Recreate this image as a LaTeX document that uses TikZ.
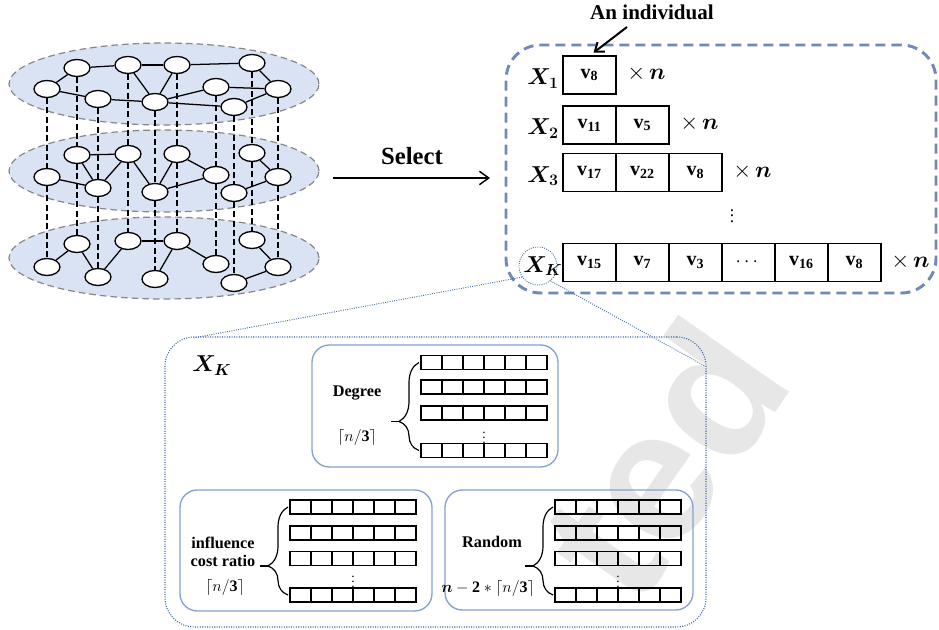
\documentclass[tikz,border=0pt]{standalone}
\usepackage{amsmath,bm}
\usepackage{fontspec}
\setmainfont{Liberation Serif}
\newfontfamily\wmfont{Liberation Sans}
\usetikzlibrary{arrows.meta,decorations.pathreplacing,shapes.geometric,calc}

\definecolor{layerfill}{RGB}{218,227,243}
\definecolor{layeredge}{RGB}{135,135,135}
\definecolor{popblue}{RGB}{112,137,186}
\definecolor{dotblue}{RGB}{72,105,168}
\definecolor{subblue}{RGB}{135,160,208}
\definecolor{wmgray}{RGB}{231,231,231}

% one gene of an individual: v with a bold subscript
\newcommand\vx[1]{\textbf{v}\textsubscript{\textbf{#1}}}
% a gene cell of the population table
\newcommand\genecell[4]{\node[gene] (#1) at ({563+53*(#2-0.5)},#3) {#4};}
% a row of six empty cells, left edge at #2, centre height #3
\newcommand\cellrow[3]{\foreach \k in {1,...,6}{\node[cellbox] (#1-\k) at ({#2+(\k-0.5)*21},#3) {};}}

\begin{document}
\begin{tikzpicture}[x=0.75pt,y=-0.75pt,
  layer/.style={ellipse, draw=layeredge, fill=layerfill, line width=0.9pt,
    dash pattern=on 5pt off 3pt, minimum width=232.5pt, minimum height=61.5pt, inner sep=0pt},
  vert/.style={ellipse, draw, fill=white, line width=1pt,
    minimum width=19.5pt, minimum height=12.75pt, inner sep=0pt},
  link/.style={line width=0.95pt},
  tie/.style={line width=0.85pt, dash pattern=on 4.5pt off 2.5pt},
  popbox/.style={draw=popblue, line width=2.2pt, dash pattern=on 7.5pt off 4.5pt,
    rounded corners=26pt, minimum width=322.5pt, minimum height=186pt},
  gene/.style={draw, line width=0.9pt, minimum width=39.75pt, minimum height=28.5pt,
    inner sep=0pt, font=\fontsize{15}{16}\selectfont},
  xlabel/.style={anchor=base west, inner sep=0pt, font=\fontsize{18}{22}\selectfont},
  times/.style={anchor=base west, inner sep=0pt, font=\fontsize{17}{20}\selectfont},
  detailbox/.style={draw=dotblue, line width=0.8pt, densely dotted, rounded corners=22pt,
    minimum width=405.75pt, minimum height=217.5pt},
  zoomline/.style={draw=dotblue, line width=0.7pt, densely dotted},
  subbox/.style={draw=subblue, line width=1pt, rounded corners=13pt},
  cellbox/.style={draw, line width=1pt, minimum width=15.75pt, minimum height=10.5pt, inner sep=0pt},
  curly/.style={decorate, line width=0.9pt,
    decoration={brace, amplitude=15pt, aspect=0.33}},
  strat/.style={font=\bfseries\fontsize{12.2}{15}\selectfont, align=center, inner sep=0pt},
  share/.style={font=\fontsize{12}{15}\selectfont, inner sep=0pt}
]
\useasboundingbox (0,0) rectangle (939,630);

% watermark, behind everything
\node[rotate=55, anchor=base east, inner sep=0pt, text=wmgray,
  font=\wmfont\bfseries\fontsize{140}{140}\selectfont] (wm) at (797,382) {ted};

% ---- multilayer network ----
\node[layer] (top) at (164,84) {};
\node[layer] (mid) at (164,171) {};
\node[layer] (bot) at (164,258) {};

\foreach \c/\xx/\ty/\my/\by in {1/47/89/177/267, 2/77/68/155/244, 3/98/99/188/277,
    4/128/65/154/241, 5/155/102/192/279, 6/177/65/154/241, 7/216/87/175/264,
    8/234/107/193/283, 9/252/63/153/240, 10/278/89/177/267}{
  \node[vert] (t\c) at (\xx,\ty) {};
  \node[vert] (m\c) at (\xx,\my) {};
  \node[vert] (b\c) at (\xx,\by) {};
}
\foreach \c in {1,...,10}{
  \draw[tie] (t\c) -- (m\c);
  \draw[tie] (m\c) -- (b\c);
}
\foreach \a/\b in {2/4,4/6,6/9,1/2,1/3,3/5,4/5,6/5,5/7,7/10,9/10,10/8,5/8}
  \draw[link] (t\a) -- (t\b);
\foreach \a/\b in {2/4,2/3,1/3,3/4,4/5,5/6,6/7,5/7,9/10,10/8}
  \draw[link] (m\a) -- (m\b);
\foreach \a/\b in {1/2,2/3,3/4,4/6,6/5,6/7,9/10,10/8}
  \draw[link] (b\a) -- (b\b);

% ---- selection arrow ----
\node[anchor=base, inner sep=0pt, font=\bfseries\fontsize{18.5}{20}\selectfont] (sel) at (412,165) {Select};
\coordinate (selfrom) at (333,178);
\coordinate (selto) at (490,178);
\draw[line width=1.1pt, -{Straight Barb[length=7pt,width=10pt,line width=1.1pt]}] (selfrom) -- (selto);

% ---- population ----
\node[popbox] (pop) at (721,169) {};

\node[xlabel] (x1) at (527,85) {$\bm{X}_{\bm{1}}$};
\node[xlabel] (x2) at (527,135) {$\bm{X}_{\bm{2}}$};
\node[xlabel] (x3) at (527,182.5) {$\bm{X}_{\bm{3}}$};
\node[xlabel] (xk) at (523,272.5) {$\bm{X}_{\bm{K}}$};

\genecell{g11}{1}{75}{\vx{8}}
\genecell{g21}{1}{125}{\vx{11}}
\genecell{g22}{2}{125}{\vx{5}}
\genecell{g31}{1}{172.5}{\vx{17}}
\genecell{g32}{2}{172.5}{\vx{22}}
\genecell{g33}{3}{172.5}{\vx{8}}
\genecell{gk1}{1}{262.5}{\vx{15}}
\genecell{gk2}{2}{262.5}{\vx{7}}
\genecell{gk3}{3}{262.5}{\vx{3}}
\genecell{gk4}{4}{262.5}{$\cdots$}
\genecell{gk5}{5}{262.5}{\vx{16}}
\genecell{gk6}{6}{262.5}{\vx{8}}

\node[times] (n1) at (627,80) {$\times\,\bm{n}$};
\node[times] (n2) at (680,130) {$\times\,\bm{n}$};
\node[times] (n3) at (733,177.5) {$\times\,\bm{n}$};
\node[times] (nk) at (891,267.5) {$\times\,\bm{n}$};
\node[font=\fontsize{13}{13}\selectfont, inner sep=0pt] (pdots) at (732,212) {$\vdots$};

% the arrow naming one individual
\node[anchor=base, inner sep=0pt, font=\bfseries\fontsize{15.8}{18}\selectfont] (indiv) at (652,20) {An individual};
\coordinate (indivtail) at (627,27);
\draw[line width=1.5pt, -{Straight Barb[length=6pt,width=9pt,line width=1.5pt]}]
  (indivtail) -- ([xshift=3pt,yshift=2pt]g11.north);

% ---- close-up of X_K ----
\node[circle, draw=dotblue, line width=0.7pt, densely dotted, minimum size=28.5pt, inner sep=0pt] (kring) at (538,266) {};
\node[detailbox] (detail) at (435.5,482) {};
\coordinate (dtl) at (193,338);
\coordinate (dtr) at (705,366);
\draw[zoomline] (kring.215) -- (dtl);
\draw[zoomline] (kring.-50) -- (dtr);

\node[anchor=base west, inner sep=0pt, font=\fontsize{18}{22}\selectfont] (xkbig) at (192,372) {$\bm{X}_{\bm{K}}$};

% degree-based part
\node[subbox, minimum width=184.5pt, minimum height=91.5pt] (degbox) at (435,406) {};
\cellrow{dg1}{421}{362.5}
\cellrow{dg2}{421}{387}
\cellrow{dg3}{421}{413}
\cellrow{dg4}{421}{450.5}
\node[font=\fontsize{10}{10}\selectfont, inner sep=0pt] (dgdots) at (484,434) {$\vdots$};
\draw[curly] ([xshift=-1pt]dg4-1.west) -- ([xshift=-1pt]dg1-1.west);
\coordinate (dgtip) at ($(dg4-1.west)!0.33!(dg1-1.west) + (-21.3,0)$);
\coordinate (dgend) at ($(dgtip) + (-8,0)$);
\draw[line width=0.9pt] (dgtip) -- (dgend);
\node[strat] (deg) at (357,393) {Degree};
\node[share] (degn) at (357,438) {$\lceil n/\mathbf{3}\rceil$};

% influence cost ratio part
\node[subbox, minimum width=189pt, minimum height=90.75pt] (infbox) at (306,550.5) {};
\cellrow{ic1}{290}{507}
\cellrow{ic2}{290}{533}
\cellrow{ic3}{290}{558.5}
\cellrow{ic4}{290}{595}
\node[font=\fontsize{10}{10}\selectfont, inner sep=0pt] (icdots) at (353,578) {$\vdots$};
\draw[curly] ([xshift=-1pt]ic4-1.west) -- ([xshift=-1pt]ic1-1.west);
\coordinate (ictip) at ($(ic4-1.west)!0.33!(ic1-1.west) + (-21.3,0)$);
\coordinate (icend) at ($(ictip) + (-8,0)$);
\draw[line width=0.9pt] (ictip) -- (icend);
\node[strat] (inf) at (223,552) {influence\\[-1pt]cost ratio};
\node[share] (infn) at (225,587) {$\lceil n/\mathbf{3}\rceil$};

% random part
\node[subbox, minimum width=186pt, minimum height=90pt] (rndbox) at (569,550) {};
\cellrow{rd1}{555}{507}
\cellrow{rd2}{555}{533}
\cellrow{rd3}{555}{558.5}
\cellrow{rd4}{555}{595}
\node[font=\fontsize{10}{10}\selectfont, inner sep=0pt] (rddots) at (618,578) {$\vdots$};
\draw[curly] ([xshift=-1pt]rd4-1.west) -- ([xshift=-1pt]rd1-1.west);
\coordinate (rdtip) at ($(rd4-1.west)!0.33!(rd1-1.west) + (-21.3,0)$);
\coordinate (rdend) at ($(rdtip) + (-8,0)$);
\draw[line width=0.9pt] (rdtip) -- (rdend);
\node[strat] (rnd) at (492,542) {Random};
\node[share] (rndn) at (488,588) {$\bm{n}-\mathbf{2}\ast\lceil n/\mathbf{3}\rceil$};
\end{tikzpicture}
\end{document}
